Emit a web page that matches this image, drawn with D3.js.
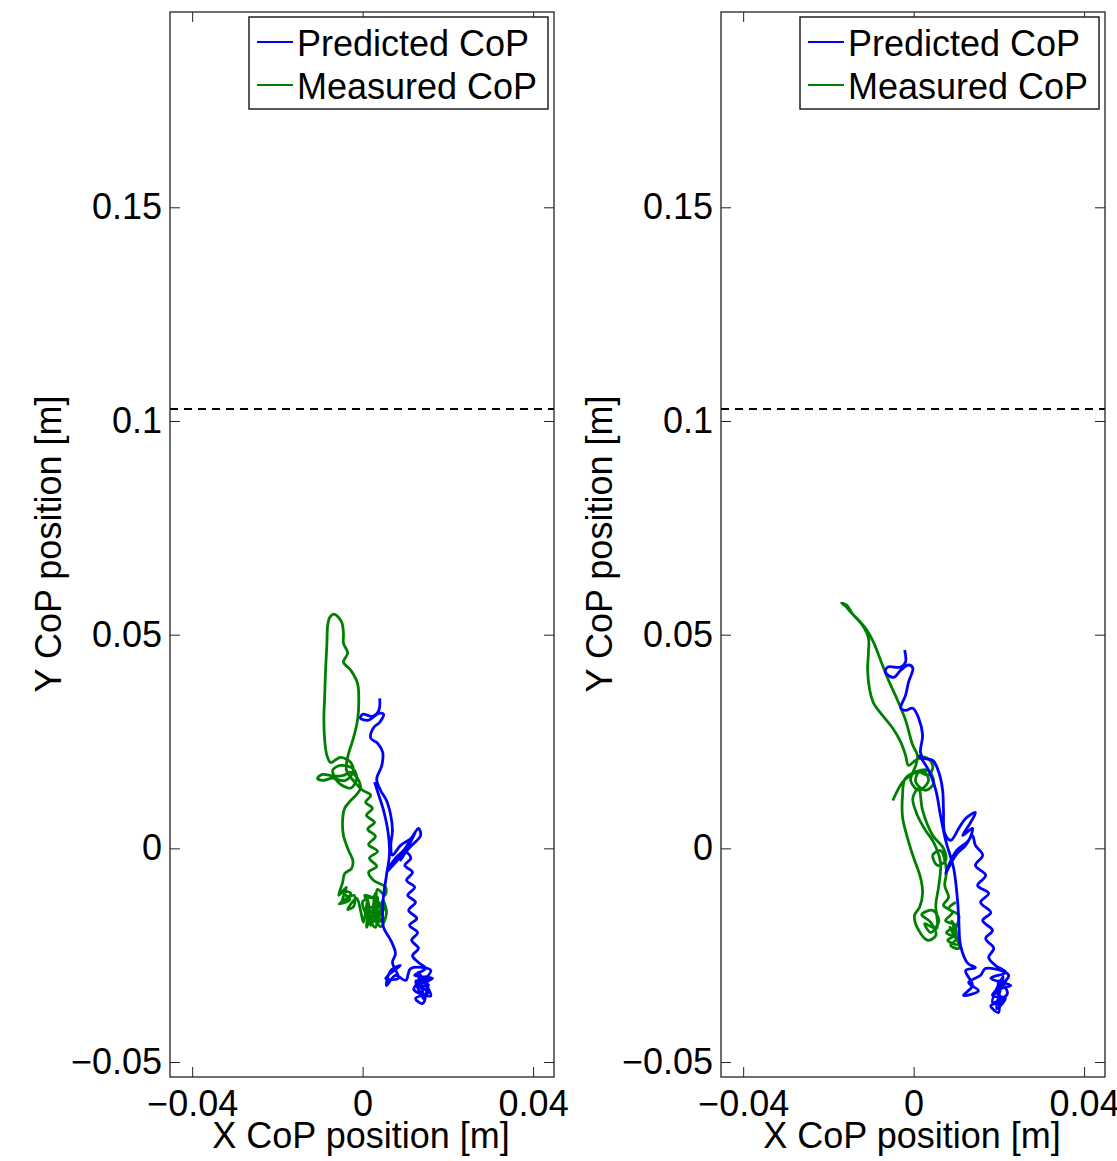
<!DOCTYPE html>
<html>
<head>
<meta charset="utf-8">
<script src="https://cdn.jsdelivr.net/npm/d3@7"></script>
<style>
body { margin: 0; background: #fff; }
text { font-family: "Liberation Sans", Arial, sans-serif; fill: #000; }
</style>
</head>
<body>
<div id="chart"></div>
<script>
// tick values and labels (metres)
const xTicks = [-0.04, 0, 0.04]
const xTickLabels = ["\u22120.04", "0", "0.04"]
const yTicks = [-0.05, 0, 0.05, 0.1, 0.15]
const yTickLabels = ["\u22120.05", "0", "0.05", "0.1", "0.15"]
const legendLabels = ["Predicted CoP", "Measured CoP"]
const limitY = 0.1028 // dashed line

// left panel trajectories [x, y]
const measLeft = [
  [-0.0059,0.0543],[-0.0068,0.0548],[-0.0077,0.0541],[-0.0082,0.0522],[-0.0084,0.0475],[-0.0087,0.0417],[-0.0089,0.0358],[-0.0091,0.0300],[-0.0089,0.0253],[-0.0084,0.0218],[-0.0075,0.0201],
  [-0.0052,0.0213],[-0.0028,0.0201],[-0.0023,0.0178],[-0.0040,0.0159],[-0.0063,0.0164],[-0.0070,0.0183],[-0.0052,0.0194],[-0.0023,0.0187],[-0.0014,0.0164],[-0.0028,0.0141],[-0.0052,0.0150],[-0.0068,0.0164],[-0.0094,0.0159],[-0.0106,0.0164],[-0.0094,0.0173],[-0.0068,0.0169],[-0.0045,0.0171],[-0.0028,0.0178],[-0.0012,0.0164],[-0.0005,0.0141],[-0.0016,0.0124],
  [-0.0028,0.0112],[-0.0042,0.0094],[-0.0047,0.0066],[-0.0045,0.0030],[-0.0033,-0.0005],[-0.0023,-0.0028],[-0.0026,-0.0047],[-0.0042,-0.0059],[-0.0047,-0.0080],
  [-0.0056,-0.0110],[-0.0038,-0.0091],[-0.0049,-0.0126],[-0.0028,-0.0105],[-0.0050,-0.0100],[-0.0030,-0.0120],[-0.0055,-0.0130],[-0.0020,-0.0110],[-0.0021,-0.0136],[-0.0035,-0.0143],[-0.0014,-0.0117],[-0.0005,-0.0145],[0.0002,-0.0173],[0.0012,-0.0122],[0.0019,-0.0180],[0.0030,-0.0105],[0.0038,-0.0164],[0.0047,-0.0122],[0.0056,-0.0150],[0.0042,-0.0183],[0.0023,-0.0157],[0.0009,-0.0185],[0.0014,-0.0133],
  [0.0005,-0.0110],[0.0040,-0.0130],[0.0010,-0.0160],[0.0045,-0.0170],[0.0015,-0.0140],[0.0050,-0.0140],[0.0020,-0.0175],[0.0035,-0.0115],[0.0000,-0.0125],[0.0030,-0.0185],[0.0035,-0.0096],[0.0052,-0.0110],[0.0054,-0.0091],
  [0.0026,-0.0075],[0.0014,-0.0056],[0.0033,-0.0042],[0.0016,-0.0023],[0.0035,-0.0007],[0.0014,0.0009],[0.0030,0.0028],[0.0012,0.0045],[0.0028,0.0061],[0.0009,0.0077],[0.0023,0.0094],[0.0007,0.0108],[0.0019,0.0124],[0.0000,0.0136],
  [-0.0016,0.0152],[-0.0038,0.0183],[-0.0033,0.0222],[-0.0023,0.0253],[-0.0012,0.0300],[-0.0009,0.0347],[-0.0012,0.0386],[-0.0028,0.0417],[-0.0045,0.0436],[-0.0035,0.0457],[-0.0045,0.0480],[-0.0045,0.0503],[-0.0049,0.0529],[-0.0059,0.0543]
]
const predLeft = [
  [0.0040,0.0351],[0.0038,0.0323],[0.0023,0.0309],[0.0000,0.0314],[-0.0005,0.0304],[0.0014,0.0300],[0.0038,0.0316],[0.0049,0.0314],[0.0040,0.0295],[0.0026,0.0283],[0.0019,0.0258],[0.0035,0.0246],[0.0047,0.0225],[0.0045,0.0194],[0.0033,0.0162],[0.0042,0.0136],[0.0056,0.0112],[0.0066,0.0077],[0.0070,0.0042],[0.0066,0.0007],[0.0070,-0.0016],
  [0.0089,0.0007],[0.0113,0.0023],[0.0131,0.0047],[0.0136,0.0030],[0.0113,0.0005],[0.0101,-0.0009],[0.0089,-0.0028],[0.0108,0.0007],[0.0124,0.0037],[0.0096,-0.0005],[0.0077,-0.0023],[0.0056,-0.0056],[0.0077,-0.0033],[0.0101,-0.0009],
  [0.0113,-0.0023],[0.0099,-0.0040],[0.0117,-0.0056],[0.0103,-0.0075],[0.0122,-0.0091],[0.0106,-0.0110],[0.0124,-0.0126],[0.0108,-0.0145],[0.0127,-0.0164],[0.0110,-0.0180],[0.0129,-0.0197],[0.0115,-0.0215],[0.0131,-0.0234],[0.0117,-0.0251],[0.0131,-0.0267],
  [0.0148,-0.0281],[0.0122,-0.0297],[0.0164,-0.0304],[0.0131,-0.0321],[0.0155,-0.0337],[0.0124,-0.0351],[0.0141,-0.0363],[0.0150,-0.0300],[0.0120,-0.0330],[0.0160,-0.0345],[0.0130,-0.0290],[0.0145,-0.0355],[0.0125,-0.0310],[0.0155,-0.0320],[0.0136,-0.0321],[0.0160,-0.0286],[0.0113,-0.0281],
  [0.0101,-0.0309],[0.0077,-0.0297],[0.0056,-0.0321],[0.0066,-0.0286],[0.0089,-0.0274],[0.0054,-0.0304],[0.0084,-0.0304],
  [0.0070,-0.0267],[0.0077,-0.0246],[0.0066,-0.0215],[0.0049,-0.0185],[0.0047,-0.0145],[0.0049,-0.0110],[0.0056,-0.0063],[0.0063,-0.0012],[0.0059,0.0042],[0.0049,0.0089],[0.0038,0.0124],[0.0028,0.0155]
]

// right panel trajectories [x, y]
const measRight = [
  [-0.0049,0.0112],[-0.0026,0.0155],[-0.0007,0.0171],[0.0021,0.0183],[0.0035,0.0159],[0.0012,0.0136],[-0.0007,0.0159],[0.0005,0.0194],[0.0009,0.0218],
  [-0.0002,0.0241],[-0.0019,0.0300],[-0.0038,0.0347],[-0.0061,0.0398],[-0.0082,0.0452],[-0.0094,0.0482],[-0.0110,0.0511],[-0.0129,0.0534],[-0.0148,0.0553],[-0.0160,0.0567],[-0.0169,0.0574],[-0.0157,0.0569],[-0.0143,0.0548],[-0.0120,0.0522],[-0.0106,0.0492],
  [-0.0106,0.0459],[-0.0108,0.0417],[-0.0103,0.0370],[-0.0094,0.0340],[-0.0073,0.0311],[-0.0049,0.0281],[-0.0030,0.0248],[-0.0019,0.0218],[-0.0012,0.0194],
  [0.0005,0.0206],[0.0028,0.0213],[0.0045,0.0194],[0.0035,0.0171],[0.0012,0.0178],[0.0005,0.0155],[0.0028,0.0136],[0.0047,0.0152],[0.0033,0.0183],[-0.0019,0.0164],
  [-0.0026,0.0124],[-0.0026,0.0073],[-0.0016,0.0030],[-0.0002,-0.0016],[0.0016,-0.0068],[0.0021,-0.0105],[0.0014,-0.0138],
  [0.0002,-0.0157],[0.0012,-0.0192],[0.0033,-0.0215],[0.0052,-0.0204],[0.0040,-0.0173],[0.0019,-0.0155],[0.0045,-0.0145],[0.0059,-0.0169],[0.0040,-0.0197],[0.0026,-0.0176],[0.0054,-0.0187],
  [0.0052,-0.0133],[0.0059,-0.0087],[0.0063,-0.0033],[0.0047,0.0014],[0.0028,0.0042],[0.0009,0.0077],[-0.0002,0.0117],[0.0012,0.0141],
  [0.0021,0.0089],[0.0045,0.0030],[0.0070,0.0000],[0.0075,-0.0028],[0.0056,-0.0040],[0.0045,-0.0016],[0.0063,-0.0005],[0.0077,-0.0052],[0.0073,-0.0087],[0.0082,-0.0115],
  [0.0070,-0.0133],[0.0091,-0.0150],[0.0075,-0.0169],[0.0099,-0.0180],[0.0077,-0.0197],[0.0101,-0.0211],[0.0087,-0.0227],[0.0106,-0.0234],[0.0090,-0.0170],[0.0100,-0.0200],[0.0080,-0.0215],[0.0105,-0.0225],[0.0085,-0.0185],[0.0094,-0.0192],[0.0106,-0.0157],[0.0082,-0.0141],[0.0099,-0.0126]
]
const predRight = [
  [-0.0021,0.0464],[-0.0019,0.0436],[-0.0030,0.0424],[-0.0061,0.0424],[-0.0066,0.0412],[-0.0047,0.0400],[-0.0030,0.0417],[-0.0012,0.0429],[-0.0002,0.0422],[-0.0012,0.0389],[-0.0019,0.0358],[-0.0030,0.0328],[-0.0019,0.0323],[-0.0002,0.0328],[0.0012,0.0304],[0.0021,0.0265],[0.0016,0.0225],[0.0023,0.0211],[0.0045,0.0206],[0.0059,0.0178],[0.0068,0.0136],[0.0070,0.0089],[0.0073,0.0035],
  [0.0087,0.0019],[0.0106,0.0047],[0.0122,0.0070],[0.0145,0.0084],[0.0134,0.0061],[0.0115,0.0030],[0.0138,0.0047],[0.0129,0.0019],[0.0101,-0.0005],[0.0082,-0.0040],[0.0075,-0.0059],[0.0099,-0.0016],[0.0122,0.0007],[0.0138,0.0030],
  [0.0145,0.0007],[0.0162,-0.0016],[0.0145,-0.0040],[0.0169,-0.0063],[0.0150,-0.0087],[0.0176,-0.0105],[0.0157,-0.0126],[0.0181,-0.0150],[0.0162,-0.0169],[0.0185,-0.0192],[0.0169,-0.0211],[0.0188,-0.0234],[0.0176,-0.0255],
  [0.0192,-0.0274],[0.0216,-0.0290],[0.0181,-0.0304],[0.0228,-0.0321],[0.0192,-0.0333],[0.0211,-0.0356],[0.0181,-0.0368],[0.0199,-0.0384],[0.0200,-0.0310],[0.0220,-0.0340],[0.0185,-0.0360],[0.0210,-0.0300],[0.0195,-0.0375],[0.0215,-0.0350],[0.0185,-0.0344],[0.0223,-0.0297],[0.0169,-0.0281],
  [0.0157,-0.0297],[0.0129,-0.0314],[0.0152,-0.0333],[0.0117,-0.0344],[0.0138,-0.0321],[0.0122,-0.0286],[0.0145,-0.0279],
  [0.0127,-0.0269],[0.0110,-0.0227],[0.0106,-0.0169],[0.0103,-0.0122],[0.0094,-0.0047],[0.0075,0.0019],[0.0063,0.0077],[0.0052,0.0136],[0.0035,0.0183],[0.0012,0.0218]
]

const blue = "#0000ff", green = "#008000"

let svg = d3.select("#chart").append("svg")
  .attr("width", 1117)
  .attr("height", 1161)

function drawPanel(left, pred, meas) {
  let x = d3.scaleLinear().domain([-0.0452, 0.0449]).range([left, left + 384])
  let y = d3.scaleLinear().domain([-0.0535, 0.1957]).range([1077, 12])
  let g = svg.append("g")

  // ticks on all four sides, pointing inward
  g.append("g").attr("transform", "translate(0,1077)")
    .call(d3.axisBottom(x).tickValues(xTicks).tickSizeInner(-10).tickSizeOuter(0).tickPadding(13)
      .tickFormat((d, i) => xTickLabels[i]))
  g.append("g").attr("transform", "translate(0,12)")
    .call(d3.axisTop(x).tickValues(xTicks).tickSizeInner(-10).tickSizeOuter(0).tickFormat(""))
  g.append("g").attr("transform", `translate(${left},0)`)
    .call(d3.axisLeft(y).tickValues(yTicks).tickSizeInner(-10).tickSizeOuter(0).tickPadding(8)
      .tickFormat((d, i) => yTickLabels[i]))
  g.append("g").attr("transform", `translate(${left + 384},0)`)
    .call(d3.axisRight(y).tickValues(yTicks).tickSizeInner(-10).tickSizeOuter(0).tickFormat(""))
  g.selectAll(".domain").remove()
  g.selectAll(".tick line").attr("stroke", "#222").attr("stroke-width", 1)
  g.selectAll(".tick text").style("font-size", "36px").attr("fill", "#000")

  // dashed limit line
  g.append("line")
    .attr("x1", x.range()[0]).attr("x2", x.range()[1])
    .attr("y1", y(limitY)).attr("y2", y(limitY))
    .attr("stroke", "#000").attr("stroke-width", 2).attr("stroke-dasharray", "8,6")

  // trajectories
  let line = d3.line().x(d => x(d[0])).y(d => y(d[1])).curve(d3.curveCatmullRom.alpha(0.5))
  g.append("path").datum(meas).attr("d", line)
    .attr("fill", "none").attr("stroke", green).attr("stroke-width", 2.8).attr("stroke-linejoin", "round")
  g.append("path").datum(pred).attr("d", line)
    .attr("fill", "none").attr("stroke", blue).attr("stroke-width", 2.8).attr("stroke-linejoin", "round")

  // axes box
  g.append("rect")
    .attr("x", left).attr("y", 12).attr("width", 384).attr("height", 1065)
    .attr("fill", "none").attr("stroke", "#222").attr("stroke-width", 1.3)

  // legend
  g.append("rect").attr("x", left + 79).attr("y", 17).attr("width", 299).attr("height", 92)
    .attr("fill", "#fff").attr("stroke", "#222").attr("stroke-width", 1.5)
  g.append("line").attr("x1", left + 87).attr("x2", left + 123).attr("y1", 42).attr("y2", 42)
    .attr("stroke", blue).attr("stroke-width", 2)
  g.append("line").attr("x1", left + 87).attr("x2", left + 123).attr("y1", 85).attr("y2", 85)
    .attr("stroke", green).attr("stroke-width", 2)
  g.append("text").attr("x", left + 127).attr("y", 56).text(legendLabels[0]).style("font-size", "36px")
  g.append("text").attr("x", left + 127).attr("y", 99).text(legendLabels[1]).style("font-size", "36px")

  // axis labels
  g.append("text").attr("x", left + 191).attr("y", 1148).attr("text-anchor", "middle")
    .style("font-size", "36px").text("X CoP position [m]")
  g.append("text").attr("transform", `translate(${left - 109},544) rotate(-90)`).attr("text-anchor", "middle")
    .style("font-size", "36px").text("Y CoP position [m]")
}

drawPanel(170, predLeft, measLeft)
drawPanel(721, predRight, measRight)
</script>
</body>
</html>
